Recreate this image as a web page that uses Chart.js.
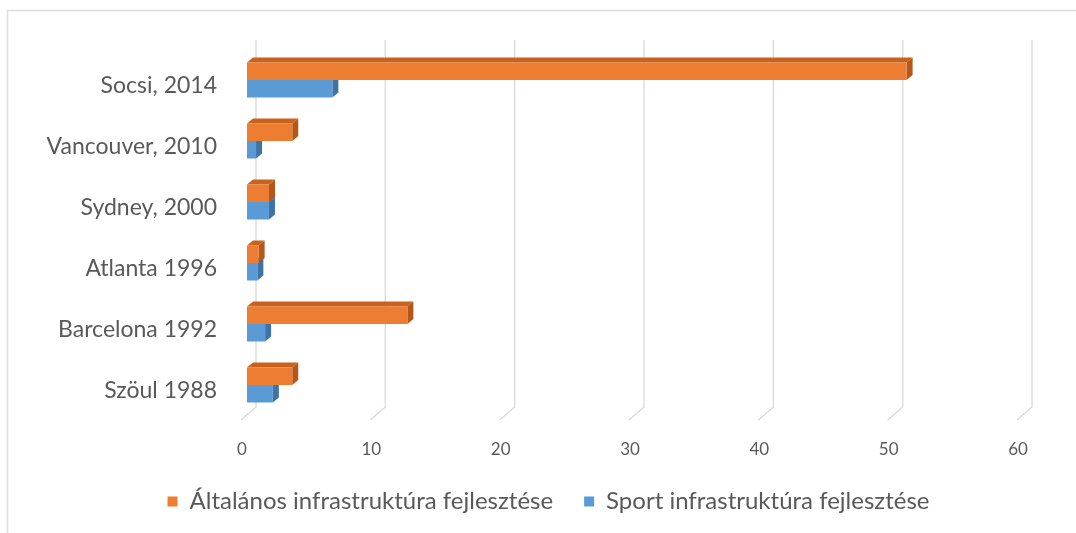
<!DOCTYPE html>
<html>
<head>
<meta charset="utf-8">
<script src="https://cdn.jsdelivr.net/npm/chart.js@4/dist/chart.umd.min.js"></script>
<style>
  html, body { margin: 0; padding: 0; background: #fff; }
  #wrap { width: 1076px; height: 533px; position: relative; }
</style>
</head>
<body>
<div id="wrap"><canvas id="chart" width="1076" height="533"></canvas></div>
<script>
// Olimpiai városok – infrastruktúra fejlesztés (Mrd USD)
const CITIES  = ['Socsi, 2014', 'Vancouver, 2010', 'Sydney, 2000', 'Atlanta 1996', 'Barcelona 1992', 'Szöul 1988'];
const GENERAL = [51.0, 3.5, 1.7, 0.9, 12.4, 3.5];
const SPORT   = [6.6, 0.7, 1.7, 0.8, 1.4, 2.0];
const X_TICKS = [0, 10, 20, 30, 40, 50, 60];

const ORANGE = { front: '#ed7d31', top: '#c9621c', side: '#b5561a' };
const BLUE   = { front: '#5b9bd5', top: '#4a84bd', side: '#3f73a7' };
const FONT = 'Lato, "Open Sans", sans-serif';

// keret a diagram körül (csak felső és bal oldal látszik)
const frame = {
    id: 'frame',
    beforeDraw(chart) {
        const c = chart.ctx;
        c.save();
        c.strokeStyle = '#dcdcdc';
        c.lineWidth = 1.5;
        c.beginPath();
        c.moveTo(1076, 10.5);
        c.lineTo(7.5, 10.5);
        c.lineTo(7.5, 533);
        c.stroke();
        c.restore();
    }
};

// a jelmagyarázat kicsit jobbra tolva, mint az eredetin
const legendShift = {
    id: 'legendShift',
    afterLayout(chart) {
        const lg = chart.legend;
        if (!lg) return;
        lg.left += 17;
        lg.right += 17;
    }
};

// 3D-s rácsvonalak: hátsó fal + ferde padló
const grid3d = {
    id: 'grid3d',
    beforeDatasetsDraw(chart) {
        const c = chart.ctx, x = chart.scales.x;
        c.save();
        c.strokeStyle = '#d9d9d9';
        c.lineWidth = 1.3;
        X_TICKS.forEach(v => {
            const px = x.getPixelForValue(v);
            c.beginPath();
            c.moveTo(px + 9, 40);
            c.lineTo(px + 9, 407);
            c.lineTo(px - 6, 420);
            c.stroke();
        });
        c.restore();
    }
};

// oszlopok teteje és oldala
const bars3d = {
    id: 'bars3d',
    beforeDatasetsDraw(chart) {
        const c = chart.ctx;
        const dx = 6, dy = 5;
        [1, 0].forEach(di => {
            const pal = di === 0 ? ORANGE : BLUE;
            chart.getDatasetMeta(di).data.forEach(bar => {
                const x0 = bar.base, x1 = bar.x;
                const yt = bar.y - bar.height / 2, yb = bar.y + bar.height / 2;
                c.fillStyle = pal.top;
                c.beginPath();
                c.moveTo(x0, yt); c.lineTo(x0 + dx, yt - dy);
                c.lineTo(x1 + dx, yt - dy); c.lineTo(x1, yt);
                c.closePath(); c.fill();
                c.fillStyle = pal.side;
                c.beginPath();
                c.moveTo(x1, yt); c.lineTo(x1 + dx, yt - dy);
                c.lineTo(x1 + dx, yb - dy); c.lineTo(x1, yb);
                c.closePath(); c.fill();
            });
        });
    }
};

new Chart(document.getElementById('chart'), {
    type: 'bar',
    data: {
        labels: CITIES,
        datasets: [
            {
                label: 'Általános infrastruktúra fejlesztése',
                data: GENERAL,
                backgroundColor: ORANGE.front,
                categoryPercentage: 0.574,
                barPercentage: 1.0,
            },
            {
                label: 'Sport infrastruktúra fejlesztése',
                data: SPORT,
                backgroundColor: BLUE.front,
                categoryPercentage: 0.574,
                barPercentage: 1.0,
            },
        ],
    },
    options: {
        indexAxis: 'y',
        responsive: false,
        animation: false,
        layout: { padding: { top: 49.5, right: 53, bottom: 9.5, left: 40 } },
        plugins: {
            legend: {
                position: 'bottom',
                labels: {
                    color: '#595959',
                    font: { family: FONT, size: 24 },
                    boxWidth: 10,
                    boxHeight: 10,
                    padding: 31,
                },
            },
            tooltip: { enabled: false },
        },
        scales: {
            x: {
                min: 0,
                max: 60,
                afterBuildTicks: s => { s.ticks = X_TICKS.map(v => ({ value: v })); },
                afterFit: s => { s.height = 43; },
                grid: { display: false },
                border: { display: false },
                ticks: {
                    color: '#595959',
                    font: { family: FONT, size: 17 },
                    padding: 16,
                    labelOffset: -5,
                },
            },
            y: {
                afterFit: s => { s.width = 207; },
                grid: { display: false },
                border: { display: false },
                ticks: {
                    color: '#595959',
                    font: { family: FONT, size: 23 },
                    padding: 22,
                    labelOffset: 6,
                },
            },
        },
    },
    plugins: [frame, legendShift, grid3d, bars3d],
});
</script>
</body>
</html>
